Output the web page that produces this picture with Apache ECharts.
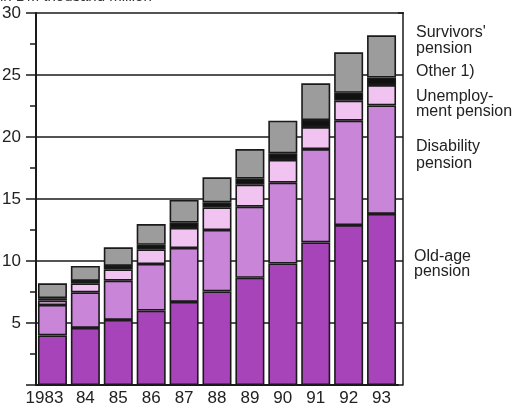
<!DOCTYPE html>
<html>
<head>
<meta charset="utf-8">
<script src="https://cdn.jsdelivr.net/npm/echarts@6/dist/echarts.min.js"></script>
<style>html,body{margin:0;padding:0;background:#fff;}#c{width:524px;height:409px;}</style>
</head>
<body>
<div id="c"></div>
<script>
const years = ['1983','84','85','86','87','88','89','90','91','92','93'];
const oldAge = [4.0, 4.6, 5.25, 6.0, 6.7, 7.55, 8.65, 9.8, 11.5, 12.9, 13.8];
const disability = [2.45, 2.87, 3.16, 3.76, 4.35, 4.95, 5.73, 6.52, 7.53, 8.42, 8.75];
const unemployment = [0.35, 0.73, 0.92, 1.18, 1.61, 1.83, 1.77, 1.83, 1.77, 1.61, 1.64];
const other = [0.2, 0.19, 0.27, 0.37, 0.43, 0.4, 0.49, 0.53, 0.57, 0.64, 0.61];
const survivors = [1.2, 1.21, 1.5, 1.67, 1.83, 2.02, 2.39, 2.64, 2.96, 3.26, 3.4];
const yTicks = [5, 10, 15, 20, 25, 30];

const font = 'Liberation Sans';
const chart = echarts.init(document.getElementById('c'));
function mk(name, arr, color) {
  return {
    name: name, type: 'bar', stack: 'total', barWidth: 29,
    data: arr,
    itemStyle: { color: color, borderColor: '#1a1a1a', borderWidth: 1.6 },
    silent: true
  };
}
chart.setOption({
  animation: false,
  textStyle: { fontFamily: font },
  grid: { left: 36, right: 126, top: 13, bottom: 24, outerBoundsMode: 'none', containLabel: false },
  xAxis: {
    type: 'category', data: years,
    axisLine: { show: true, lineStyle: { color: '#1a1a1a', width: 2 } },
    axisTick: { show: false },
    axisLabel: {
      interval: 0,
      formatter: (v, i) => (i === 0 ? '{a|' + v + '}' : v),
      color: '#222', fontSize: 17, margin: 5, fontFamily: font,
      rich: { a: { fontSize: 17, color: '#222', fontFamily: font, padding: [0, 16, 0, 0] } }
    }
  },
  yAxis: [{
    type: 'value', min: 0, max: 30, interval: 5,
    axisLine: { show: true, lineStyle: { color: '#1a1a1a', width: 2 } },
    axisTick: { show: true, length: 10, lineStyle: { color: '#1a1a1a', width: 1.5 } },
    minorTick: { show: true, splitNumber: 2, length: 6, lineStyle: { color: '#1a1a1a', width: 1.5 } },
    splitLine: { show: true, lineStyle: { color: '#1a1a1a', width: 1.5 } },
    axisLabel: {
      formatter: v => (yTicks.indexOf(v) >= 0 ? String(v) : ''),
      color: '#222', fontSize: 17, margin: 15, fontFamily: font
    }
  }, {
    type: 'value', min: 0, max: 30, interval: 5, position: 'right', offset: 5,
    axisLine: { show: true, lineStyle: { color: '#1a1a1a', width: 1.5 } },
    axisTick: { show: true, inside: true, length: 5, lineStyle: { color: '#1a1a1a', width: 1.5 } },
    axisLabel: { show: false }, splitLine: { show: false }
  }],
  series: [
    mk('Old-age pension', oldAge, '#a744b9'),
    mk('Disability pension', disability, '#c985d8'),
    mk('Unemployment pension', unemployment, '#f1c3f1'),
    mk('Other 1)', other, '#111111'),
    mk('Survivors\' pension', survivors, '#9c9c9c')
  ],
  graphic: [
    { type: 'text', left: 0, top: -11, style: { text: 'in DM thousand million', font: '15px "Liberation Sans"', fill: '#333' } },
    { type: 'line', shape: { x1: 398, y1: 13, x2: 404, y2: 13 }, style: { stroke: '#1a1a1a', lineWidth: 1.5 } },
    { type: 'text', left: 416, top: 25, style: { text: "Survivors'\npension", font: '16px "Liberation Sans"', fill: '#222', lineHeight: 16 } },
    { type: 'text', left: 416, top: 64, style: { text: 'Other 1)', font: '16px "Liberation Sans"', fill: '#222' } },
    { type: 'text', left: 416, top: 89, style: { text: 'Unemploy-\nment pension', font: '16px "Liberation Sans"', fill: '#222', lineHeight: 15 } },
    { type: 'text', left: 416, top: 138, style: { text: 'Disability\npension', font: '16px "Liberation Sans"', fill: '#222', lineHeight: 17 } },
    { type: 'text', left: 414, top: 249, style: { text: 'Old-age\npension', font: '16px "Liberation Sans"', fill: '#222', lineHeight: 15 } }
  ]
});
</script>
</body>
</html>
